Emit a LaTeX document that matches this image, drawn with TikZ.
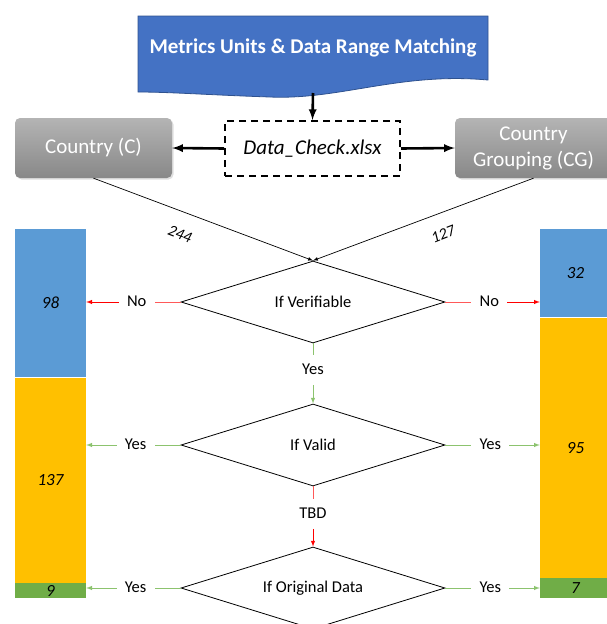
\documentclass[tikz,border=0pt]{standalone}
\usepackage{fontspec}
\setmainfont{Carlito}
\usetikzlibrary{arrows}
\usetikzlibrary{positioning}
\usetikzlibrary{shapes.geometric}
\usetikzlibrary{shadows}
\definecolor{docblue}{RGB}{68,114,196}
\definecolor{docedge}{RGB}{47,82,143}
\definecolor{barblue}{RGB}{91,155,213}
\definecolor{barorange}{RGB}{255,192,0}
\definecolor{bargreen}{RGB}{112,173,71}
\definecolor{yesgreen}{RGB}{140,195,110}
\definecolor{nored}{RGB}{255,0,0}
\definecolor{boxtop}{RGB}{180,180,180}
\definecolor{boxbot}{RGB}{136,136,136}
\tikzset {
  % heavy arrows round the spreadsheet
  feed/.style = {
    draw = black,
    line width = 2.6pt,
    -latex
  },
  % thin arrows into the first test
  flow/.style = {
    draw = black,
    line width = 0.7pt,
    -latex
  },
  yes line/.style = {
    draw = yesgreen,
    line width = 1pt
  },
  yes arr/.style = {
    yes line,
    -latex
  },
  no line/.style = {
    draw = nored!65,
    line width = 1pt
  },
  no arr/.style = {
    draw = nored,
    line width = 1pt,
    -latex
  }
}
\tikzset {
  title/.style = {
    text = white,
    font = \fontsize{21}{25}\selectfont\bfseries
  },
  % data source boxes
  source/.style = {
    rounded corners = 5pt,
    top color = boxtop,
    bottom color = boxbot,
    drop shadow = {opacity = 0.25, shadow xshift = 1.5pt, shadow yshift = -1.5pt},
    text = white,
    align = center,
    font = \fontsize{21}{26}\selectfont,
    minimum width = 157pt,
    minimum height = 60pt
  },
  sheet/.style = {
    draw = black,
    line width = 2pt,
    dash pattern = on 7pt off 5pt,
    font = \fontsize{21}{25}\selectfont\itshape,
    minimum width = 175pt,
    minimum height = 55pt
  },
  % decision symbol
  test/.style = {
    draw = black,
    diamond,
    aspect = 3.2,
    line width = 0.8pt,
    minimum width = 264pt,
    minimum height = 82pt,
    inner sep = 0pt,
    font = \fontsize{16.5}{19}\selectfont
  },
  branch/.style = {
    inner xsep = 8pt,
    inner ysep = 7.5pt,
    text height = 11pt,
    text depth = 3pt,
    font = \fontsize{16.5}{19}\selectfont
  },
  bar/.style = {
    minimum width = 71pt,
    inner sep = 0pt,
    font = \fontsize{17}{20}\selectfont\itshape
  },
  count/.style = {
    font = \fontsize{16}{19}\selectfont\itshape
  },
  node distance = 26pt
}
\begin{document}
\begin{tikzpicture}[x=1pt, y=-1pt]
    \useasboundingbox (0,0) rectangle (606,624);

    % document shape
    \filldraw[fill=docblue, draw=docedge, line width=0.8pt]
      (138,16) -- (488,16) -- (488,80)
      .. controls (400,72) and (340,100) .. (270,97)
      .. controls (210,95) and (170,92) .. (138,92) -- cycle;
    \node[title] (metrics) at (313,48) {Metrics Units \& Data Range Matching};
    \coordinate (metrics-foot) at (313,93);

    \node[sheet] (sheet) at (312.5,148.5) {Data\_Check.xlsx};

    \node[source] (country) at (93.5,148) {Country (C)};
    \node[source] (grouping) at (533.5,148) {Country\\Grouping (CG)};

    % stacked bars
    \node[bar, fill=barblue, minimum height=148pt, anchor=north] (c98) at (50.5,229) {98};
    \node[bar, fill=barorange, minimum height=205pt, below=0pt of c98] (c137) {137};
    \node[bar, fill=bargreen, minimum height=15pt, below=0pt of c137] (c9) {9};

    \node[bar, fill=barblue, minimum height=88pt, anchor=north] (c32) at (575.5,229) {32};
    \node[bar, fill=barorange, minimum height=260pt, below=0pt of c32] (c95) {95};
    \node[bar, fill=bargreen, minimum height=20pt, below=0pt of c95] (c7) {7};

    % tests
    \node[test] (verif) at (313,302) {If Verifiable};
    \node[test] (valid) at (313,445) {If Valid};
    \node[test] (orig) at (313,588) {If Original Data};

    \node[branch, left=of verif] (noC) {No};
    \node[branch, right=of verif] (noG) {No};
    \node[branch, below=12pt of verif] (yesV) {Yes};

    \node[branch, left=of valid] (yesC) {Yes};
    \node[branch, right=of valid] (yesG) {Yes};
    \node[branch, below=13pt of valid] (tbd) {TBD};

    \node[branch, left=of orig] (origC) {Yes};
    \node[branch, right=of orig] (origG) {Yes};

    \node[count, rotate=-21] (n244) at (180,234) {244};
    \node[count, rotate=21] (n127) at (443,234) {127};

    % top part
    \draw[feed] (metrics-foot) -- (sheet.north);
    \draw[feed] (sheet.west) -- (country.east);
    \draw[feed] (sheet.east) -- (grouping.west);

    \draw[flow] (country.south) -- (verif.north);
    \draw[flow] (grouping.south) -- (verif.north);

    % not verifiable
    \draw[no line] (verif.west) -- (noC.east);
    \draw[no arr] (noC.west) -- (noC.west -| c98.east);
    \draw[no line] (verif.east) -- (noG.west);
    \draw[no arr] (noG.east) -- (noG.east -| c32.west);

    \draw[yes line] (verif.south) -- (yesV.north);
    \draw[yes arr] (yesV.south) -- (valid.north);

    % valid
    \draw[yes line] (valid.west) -- (yesC.east);
    \draw[yes arr] (yesC.west) -- (yesC.west -| c137.east);
    \draw[yes line] (valid.east) -- (yesG.west);
    \draw[yes arr] (yesG.east) -- (yesG.east -| c95.west);

    \draw[no line] (valid.south) -- (tbd.north);
    \draw[no arr] (tbd.south) -- (orig.north);

    % original data
    \draw[yes line] (orig.west) -- (origC.east);
    \draw[yes arr] (origC.west) -- (origC.west -| c9.east);
    \draw[yes line] (orig.east) -- (origG.west);
    \draw[yes arr] (origG.east) -- (origG.east -| c7.west);
\end{tikzpicture}
\end{document}
